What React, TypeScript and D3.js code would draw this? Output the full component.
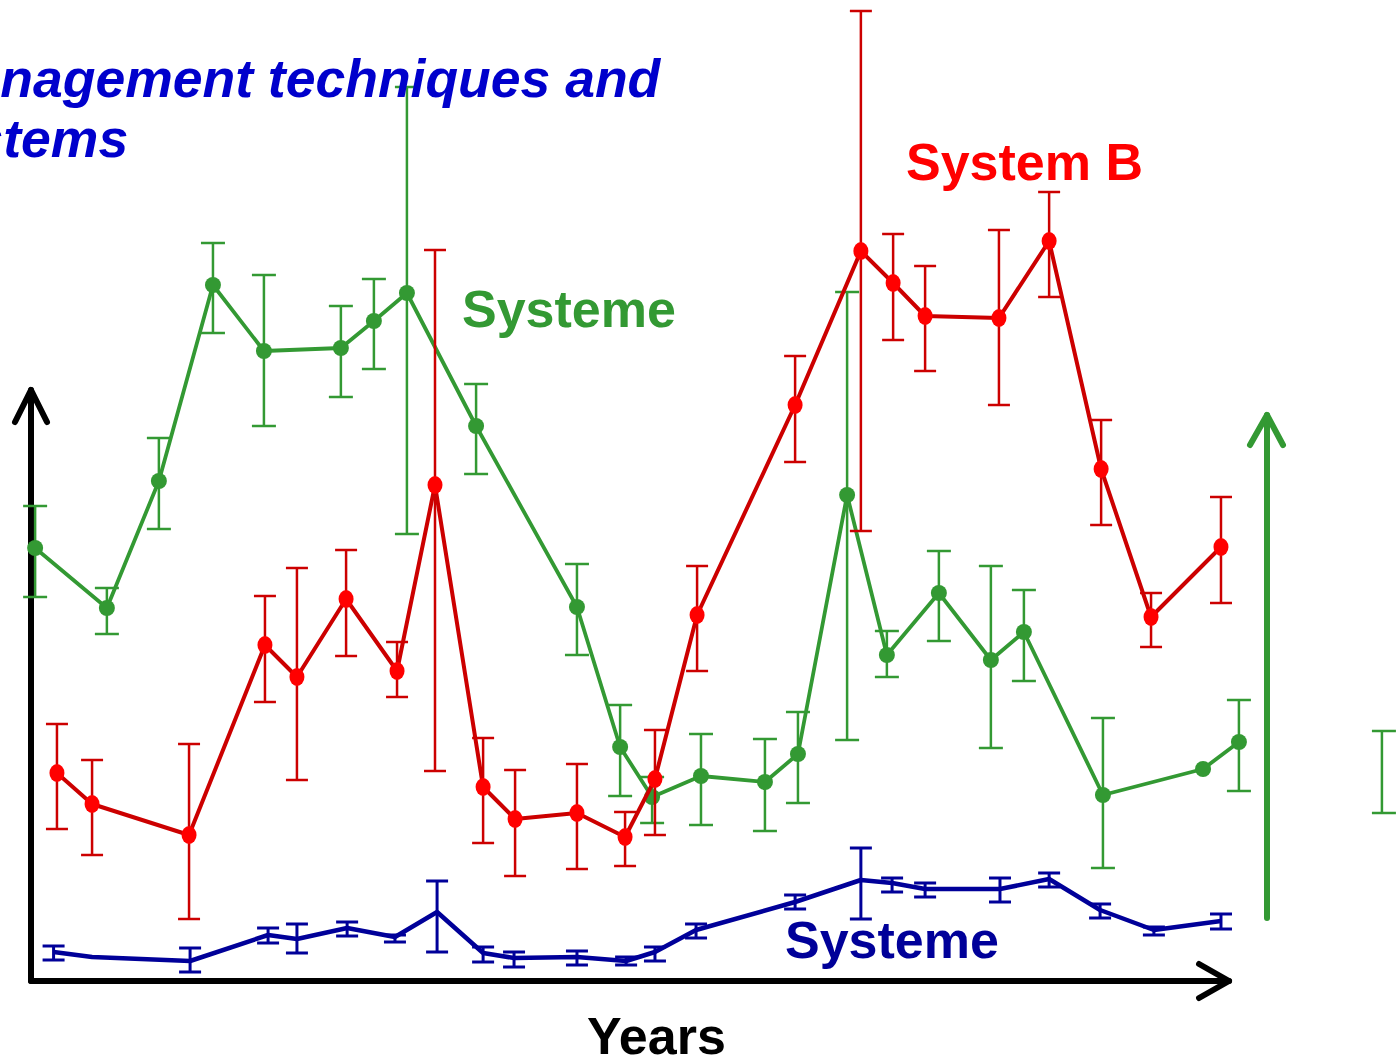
import React from 'react';
import * as d3 from 'd3';

// time axis in years since start, value axis in arbitrary units
const redYears = [0.96, 2.31, 6.04, 8.96, 10.19, 12.08, 14.04, 15.5, 17.35, 18.58, 20.96, 22.81, 23.96, 25.58, 29.35, 31.88, 33.12, 34.35, 37.19, 39.12, 41.12, 43.04, 45.73];
const redValues = [20.7, 17.6, 14.5, 33.5, 30.3, 38.1, 30.9, 49.5, 19.3, 16.1, 16.7, 14.3, 20.1, 36.5, 57.5, 72.9, 69.7, 66.4, 66.2, 73.9, 51.1, 36.3, 43.3];
const redHigh = [25.6, 22.0, 23.6, 38.4, 41.2, 43.0, 33.8, 73.0, 24.2, 21.0, 21.6, 16.8, 25.0, 41.4, 62.4, 96.9, 74.6, 71.4, 75.0, 78.8, 56.0, 38.7, 48.3];
const redLow = [15.1, 12.5, 6.1, 27.8, 20.0, 32.4, 28.3, 20.9, 13.7, 10.4, 11.1, 11.4, 14.5, 30.9, 51.8, 44.9, 64.0, 60.9, 57.5, 68.3, 45.5, 33.3, 37.7];

const greenYears = [0.12, 2.88, 4.88, 6.96, 8.92, 11.88, 13.15, 14.42, 17.08, 20.96, 22.62, 23.85, 25.73, 28.19, 29.46, 31.35, 32.88, 34.88, 36.88, 38.15, 41.19, 45.04, 46.42];
const greenValues = [43.2, 37.2, 49.9, 69.5, 62.9, 63.2, 65.9, 68.7, 55.4, 37.3, 23.3, 18.3, 20.4, 19.8, 22.6, 48.5, 32.5, 38.7, 32.0, 34.8, 18.5, 21.1, 23.8];
const greenHigh = [47.4, 39.2, 54.2, 73.7, 70.5, 67.4, 70.1, 89.3, 59.6, 41.6, 27.5, 20.3, 24.6, 24.1, 26.8, 68.8, 34.9, 42.9, 41.4, 39.0, 26.2, null, 28.0];
const greenLow = [38.3, 34.6, 45.1, 64.7, 55.4, 58.3, 61.1, 44.6, 50.6, 32.5, 18.4, 15.7, 15.5, 14.9, 17.7, 24.0, 30.3, 33.9, 23.2, 29.9, 11.2, null, 18.9];
// stray green error bar at the right edge (point hidden)
const greenExtraYear = 51.92;
const greenExtraHigh = 24.9;
const greenExtraLow = 16.7;

const blueYears = [0.83, 2.31, 6.08, 9.08, 10.19, 12.12, 13.96, 15.58, 17.35, 18.54, 20.96, 22.85, 23.96, 25.54, 29.35, 31.88, 33.08, 34.35, 37.23, 39.12, 41.08, 43.15, 45.73];
const blueValues = [2.8, 2.3, 1.9, 4.5, 4.1, 5.2, 4.3, 6.8, 2.7, 2.2, 2.3, 1.9, 2.8, 5.0, 7.8, 10.0, 9.7, 9.1, 9.1, 10.1, 7.0, 5.0, 5.9];
const blueHigh = [3.4, null, 3.2, 5.2, 5.6, 5.8, 4.5, 9.9, 3.3, 2.8, 2.9, 2.3, 3.3, 5.6, 8.5, 13.2, 10.2, 9.7, 10.2, 10.7, 7.6, 5.3, 6.6];
const blueLow = [2.0, null, 0.8, 3.7, 2.7, 4.4, 3.8, 2.8, 1.8, 1.3, 1.5, 1.5, 1.9, 4.2, 7.1, 6.1, 8.8, 8.3, 7.8, 9.3, 6.2, 4.5, 5.1];

const axisYearEnd = 46.04;
const axisValueEnd = 59.0;
const trendYear = 47.5;
const trendFrom = 6.2;
const trendTo = 56.5;

const W = 1396;
const H = 1059;

const GREEN = '#339933';
const RED_LINE = '#cc0000';
const RED_DOT = '#ff0000';
const BLUE = '#000099';
const FONT = '"Liberation Sans", Arial, Helvetica, sans-serif';

const x = d3.scaleLinear().domain([0, 46]).range([32, 1228]);
const y = d3.scaleLinear().domain([0, 98]).range([980, 0]);

type Pt = { t: number; v: number; hi: number | null; lo: number | null };

const zip = (ts: number[], vs: number[], his: (number | null)[], los: (number | null)[]): Pt[] =>
  ts.map((t, i) => ({ t, v: vs[i], hi: his[i], lo: los[i] }));

const red = zip(redYears, redValues, redHigh, redLow);
const green = zip(greenYears, greenValues, greenHigh, greenLow);
const blue = zip(blueYears, blueValues, blueHigh, blueLow);

const line = d3.line<Pt>().x(d => x(d.t)).y(d => y(d.v));

function ErrorBars({ data, color, width, cap }: { data: Pt[]; color: string; width: number; cap: number }) {
  return (
    <g stroke={color} strokeWidth={width} fill="none">
      {data.filter(d => d.hi != null && d.lo != null).map((d, i) => {
        const cx = x(d.t);
        const y1 = y(d.hi as number);
        const y2 = y(d.lo as number);
        return (
          <g key={i}>
            <line x1={cx} x2={cx} y1={y1} y2={y2} />
            <line x1={cx - cap} x2={cx + cap} y1={y1} y2={y1} />
            <line x1={cx - cap} x2={cx + cap} y1={y2} y2={y2} />
          </g>
        );
      })}
    </g>
  );
}

export default function App() {
  const ox = x(0);
  const oy = y(0) + 1;
  const ax = x(axisYearEnd);
  const ay = y(axisValueEnd);
  const gx = x(trendYear);

  return (
    <svg width={W} height={H} style={{ position: 'absolute', left: 0, top: 0, background: '#fff' }}>
      {/* axes */}
      <g stroke="#000" strokeWidth={6} fill="none" strokeLinecap="round" strokeLinejoin="round">
        <line x1={ox - 1} y1={oy} x2={ox - 1} y2={ay} />
        <polyline points={`${ox - 17},${ay + 32} ${ox - 1},${ay} ${ox + 15},${ay + 32}`} />
        <line x1={ox - 1} y1={oy} x2={ax} y2={oy} />
        <polyline points={`${ax - 30},${oy - 17} ${ax},${oy} ${ax - 30},${oy + 17}`} />
      </g>

      {/* green trend arrow */}
      <g stroke={GREEN} strokeWidth={6} fill="none" strokeLinecap="round" strokeLinejoin="round">
        <line x1={gx} y1={y(trendFrom)} x2={gx} y2={y(trendTo)} />
        <polyline points={`${gx - 17},${y(trendTo) + 30} ${gx},${y(trendTo)} ${gx + 16},${y(trendTo) + 30}`} />
      </g>

      {/* green series */}
      <ErrorBars data={green} color={GREEN} width={2.5} cap={12} />
      <g stroke={GREEN} strokeWidth={2.5}>
        <line x1={x(greenExtraYear)} x2={x(greenExtraYear)} y1={y(greenExtraHigh)} y2={y(greenExtraLow)} />
        <line x1={x(greenExtraYear) - 10} x2={x(greenExtraYear) + 14} y1={y(greenExtraHigh)} y2={y(greenExtraHigh)} />
        <line x1={x(greenExtraYear) - 10} x2={x(greenExtraYear) + 14} y1={y(greenExtraLow)} y2={y(greenExtraLow)} />
      </g>
      <path d={line(green) || ''} fill="none" stroke={GREEN} strokeWidth={3.8} strokeLinejoin="round" />
      {green.map((d, i) => (
        <circle key={i} cx={x(d.t)} cy={y(d.v)} r={8} fill={GREEN} />
      ))}

      {/* red series */}
      <ErrorBars data={red} color={RED_LINE} width={2.5} cap={11} />
      <path d={line(red) || ''} fill="none" stroke={RED_LINE} strokeWidth={4} strokeLinejoin="round" />
      {red.map((d, i) => (
        <ellipse key={i} cx={x(d.t)} cy={y(d.v)} rx={7.5} ry={9} fill={RED_DOT} />
      ))}

      {/* blue series */}
      <ErrorBars data={blue} color={BLUE} width={3} cap={11} />
      <path d={line(blue) || ''} fill="none" stroke={BLUE} strokeWidth={4.5} strokeLinejoin="round" />

      {/* title (cropped at left edge) */}
      <g fill="#0000cc" fontFamily={FONT} fontWeight="bold" fontStyle="italic" fontSize={53.5}>
        <text x={-74} y={97}>Management techniques and</text>
        <text x={-86} y={157}>systems</text>
      </g>

      {/* labels */}
      <g fontFamily={FONT} fontWeight="bold" fontSize={52}>
        <text x={462} y={327} fill={GREEN}>Systeme</text>
        <text x={906} y={180} fill="#ff0000">System B</text>
        <text x={785} y={958} fill={BLUE}>Systeme</text>
        <text x={587} y={1054} fill="#000">Years</text>
      </g>
    </svg>
  );
}
